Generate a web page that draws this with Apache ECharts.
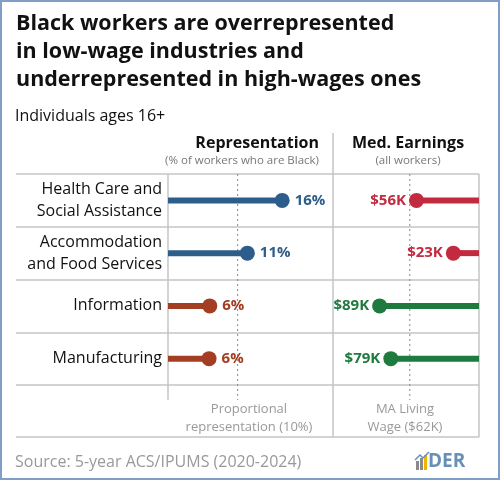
<!DOCTYPE html>
<html>
<head>
<meta charset="utf-8">
<script src="https://cdn.jsdelivr.net/npm/echarts@6/dist/echarts.min.js"></script>
<style>
  html, body { margin: 0; padding: 0; background: #fff; }
  #chart { width: 500px; height: 480px; }
</style>
</head>
<body>
<div id="chart"></div>
<script>
const industries = ['Health Care and\nSocial Assistance', 'Accommodation\nand Food Services', 'Information', 'Manufacturing'];
const representation = [16.4, 11.4, 6.0, 5.9];
const repLabels = ['16%', '11%', '6%', '6%'];
const earnings = [56, 23, 89, 79];
const earnLabels = ['$56K', '$23K', '$89K', '$79K'];
const repColors = ['#2d5d8b', '#2d5d8b', '#a33e22', '#a33e22'];
const earnColors = ['#c22a40', '#c22a40', '#1f7a3f', '#1f7a3f'];
const proportional = 10;
const livingWage = 62;

const FONT = '"Open Sans", "Noto Sans", sans-serif';
const chart = echarts.init(document.getElementById('chart'));

// row top 174, four rows of ~52.75px
const gridTop = 174, gridBottom = 480 - 385;

const option = {
    animation: false,
    textStyle: { fontFamily: FONT },
    grid: [
        { left: 168, right: 500 - 333, top: gridTop, bottom: gridBottom },
        { left: 335, right: 500 - 479, top: gridTop, bottom: gridBottom }
    ],
    xAxis: [
        { gridIndex: 0, type: 'value', min: 0, max: 23.7, show: false },
        { gridIndex: 1, type: 'value', min: 0, max: 129, inverse: true, show: false }
    ],
    yAxis: [
        {
            gridIndex: 0, type: 'category', data: industries, inverse: true,
            axisLine: { show: false }, axisTick: { show: false }, splitLine: { show: false },
            axisLabel: { fontSize: 16, color: '#111', lineHeight: 22, margin: 6, fontFamily: FONT }
        },
        { gridIndex: 1, type: 'category', data: industries, inverse: true, show: false }
    ],
    series: [
        {
            type: 'bar', xAxisIndex: 0, yAxisIndex: 0, barWidth: 6,
            data: representation.map((v, i) => ({ value: v, itemStyle: { color: repColors[i] } }))
        },
        {
            type: 'scatter', xAxisIndex: 0, yAxisIndex: 0, symbolSize: 15, z: 5,
            data: representation.map((v, i) => ({
                value: [v, i],
                itemStyle: { color: repColors[i], opacity: 1 },
                label: { show: true, position: 'right', distance: 5, formatter: repLabels[i],
                    color: repColors[i], fontSize: 15, fontWeight: 'bold', fontFamily: FONT }
            }))
        },
        {
            type: 'bar', xAxisIndex: 1, yAxisIndex: 1, barWidth: 6,
            data: earnings.map((v, i) => ({ value: v, itemStyle: { color: earnColors[i] } }))
        },
        {
            type: 'scatter', xAxisIndex: 1, yAxisIndex: 1, symbolSize: 15, z: 5,
            data: earnings.map((v, i) => ({
                value: [v, i],
                itemStyle: { color: earnColors[i], opacity: 1 },
                label: { show: true, position: 'left', distance: 3, formatter: earnLabels[i],
                    color: earnColors[i], fontSize: 15, fontWeight: 'bold', fontFamily: FONT }
            }))
        }
    ]
};
chart.setOption(option);

// reference lines and frame
const xProp = chart.convertToPixel({ xAxisIndex: 0 }, proportional);
const xWage = chart.convertToPixel({ xAxisIndex: 1 }, livingWage);
const grey = '#c4c4c4';
const hline = y => ({ type: 'line', shape: { x1: 16, y1: y, x2: 479, y2: y }, style: { stroke: grey, lineWidth: 1.5 } });
const vline = (x, y1, y2, dash) => ({ type: 'line', shape: { x1: x, y1: y1, x2: x, y2: y2 },
    style: { stroke: dash ? '#888' : grey, lineWidth: dash ? 1 : 1.5, lineDash: dash ? [2, 3] : null }, z: 1 });
const txt = (x, y, text, size, color, weight, align, lh) => ({ type: 'text', x: x, y: y, z: 10,
    style: { text: text, fontSize: size, fill: color, fontWeight: weight || 'normal', fontFamily: FONT,
        align: align || 'left', verticalAlign: 'middle', lineHeight: lh || size * 1.4 } });

chart.setOption({
    graphic: [
        { type: 'rect', shape: { x: 1, y: 1, width: 498, height: 478 }, style: { fill: null, stroke: '#7f9fc6', lineWidth: 2 } },
        txt(16, 52, 'Black workers are overrepresented\nin low-wage industries and\nunderrepresented in high-wages ones', 21.5, '#111', 'bold', 'left', 28),
        txt(15, 116, 'Individuals ages 16+', 16, '#111'),
        txt(319, 143, 'Representation', 16, '#111', 'bold', 'right'),
        txt(319, 161, '(% of workers who are Black)', 11.5, '#777', 'normal', 'right'),
        txt(408, 143, 'Med. Earnings', 16, '#111', 'bold', 'center'),
        txt(408, 161, '(all workers)', 11.5, '#777', 'normal', 'center'),
        hline(174), hline(227), hline(280), hline(333), hline(385), hline(437),
        vline(168, 174, 400), vline(333, 133, 437), vline(479, 174, 437),
        vline(xProp, 174, 400, true), vline(xWage, 174, 400, true),
        txt(249, 418, 'Proportional\nrepresentation (10%)', 13, '#999', 'normal', 'center', 18),
        txt(405, 418, 'MA Living\nWage ($62K)', 13, '#999', 'normal', 'center', 18),
        txt(15, 462, 'Source: 5-year ACS/IPUMS (2020-2024)', 16, '#999'),
        { type: 'rect', shape: { x: 416, y: 461, width: 3, height: 9 }, style: { fill: '#8a8a8a' } },
        { type: 'rect', shape: { x: 420, y: 458, width: 3, height: 12 }, style: { fill: '#8a8a8a' } },
        { type: 'rect', shape: { x: 424, y: 455, width: 3, height: 15 }, style: { fill: '#f0b400' } },
        { type: 'polyline', shape: { points: [[415, 460], [420, 455], [423, 458], [429, 452]] }, style: { stroke: '#6a8fb5', lineWidth: 1.5, fill: null } },
        txt(428, 462, 'DER', 19, '#6a8fb5', 'bold')
    ]
});
</script>
</body>
</html>
